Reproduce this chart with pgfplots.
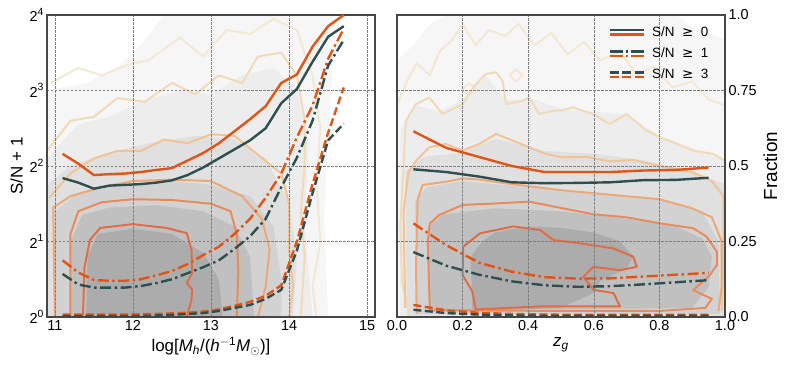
\documentclass[border=0pt]{standalone}
\usepackage{fontspec}
\setmainfont{Liberation Sans}
\newfontfamily\dejavu{DejaVu Sans}
\usepackage{pgfplots}
\pgfplotsset{compat=1.18}

\definecolor{snorange}{RGB}{226,84,22}
\definecolor{snteal}{RGB}{47,79,79}
% contour line colours, inner to outer
\definecolor{c1}{RGB}{222,110,72}
\definecolor{c2}{RGB}{231,140,95}
\definecolor{c3}{RGB}{236,168,120}
\definecolor{c4}{RGB}{240,196,150}
\definecolor{c5}{RGB}{241,218,185}
\definecolor{c6}{RGB}{243,232,212}
% filled contour greys, inner to outer
\definecolor{g1}{RGB}{172,172,172}
\definecolor{g2}{RGB}{192,192,192}
\definecolor{g3}{RGB}{210,210,210}
\definecolor{g4}{RGB}{224,224,224}
\definecolor{g5}{RGB}{237,237,237}
\definecolor{g6}{RGB}{246,246,246}

\newcommand\pw[1]{2\raisebox{0.45em}{\fontsize{10.5}{10.5}\selectfont #1}}

\pgfplotsset{
  panel/.style={
    scale only axis, width=328bp, height=302bp,
    axis on top,
    axis line style={draw=black!72, line width=1.2bp},
    grid=major,
    grid style={black!50, line width=0.6bp, dash pattern=on 2.5bp off 1.5bp},
    major tick length=0pt,
    tick label style={font=\fontsize{14.5}{14.5}\selectfont},
    xlabel style={font=\fontsize{17}{17}\selectfont},
    ylabel style={font=\fontsize{17}{17}\selectfont},
  },
  overlay/.style={scale only axis, width=328bp, height=302bp, hide axis, ymin=0, ymax=1},
  gfill/.style={draw=none, fill=#1, forget plot},
  cline/.style={draw=#1, line width=2bp, line join=round, mark=none, forget plot},
  curve/.style={draw=#1, line width=2.4bp, mark=none, forget plot},
  dd/.style={dash pattern=on 11bp off 3.5bp on 2.5bp off 3.5bp},
  ds/.style={dash pattern=on 8bp off 3.5bp},
}

\begin{document}
\begin{tikzpicture}
\path[use as bounding box] (-47bp,-53bp) rectangle (742bp,317bp);

% ---------------- left panel: contours in log2(S/N+1) ----------------
\begin{axis}[panel,
  xmin=10.9, xmax=15.1, ymin=0, ymax=4,
  xtick={11,12,13,14,15}, xticklabels={11,12,13,14,15},
  ytick={0,1,2,3,4},
  yticklabels={\pw{0},\pw{1},\pw{2},\pw{3},\pw{4}},
  xlabel={log[\textit{M}\textsubscript{\textit{h}}/(\textit{h}\textsuperscript{$-$1}\textit{M}\textsubscript{$\odot$})]},
  ylabel={S/N + 1},
]
\addplot[gfill=g6] coordinates {(10.9,0) (10.9,3.0) (11.4,3.1) (11.8,3.3) (12.1,3.6) (12.4,4.0) (14.6,4.0) (14.55,3.3) (14.5,2.4) (14.45,1.3) (14.5,0)};
\addplot[gfill=g5] coordinates {(10.9,0) (10.9,2.1) (11.3,2.55) (11.7,2.65) (12.1,2.85) (12.6,3.0) (13.0,2.95) (13.4,3.2) (13.8,3.3) (14.1,3.0) (14.25,2.3) (14.2,1.2) (14.3,0)};
\addplot[gfill=g4] coordinates {(10.9,0) (10.9,1.75) (11.2,2.0) (11.6,2.15) (12.2,2.3) (12.8,2.4) (13.3,2.35) (13.7,2.1) (14.0,1.5) (14.1,0.8) (14.05,0)};
\addplot[gfill=g3] coordinates {(11.0,0) (11.0,1.4) (11.3,1.65) (11.8,1.75) (12.5,1.8) (13.0,1.75) (13.5,1.6) (13.8,1.2) (13.9,0.5) (13.9,0)};
\addplot[gfill=g2] coordinates {(11.2,0) (11.2,1.0) (11.35,1.35) (11.7,1.45) (12.3,1.48) (12.9,1.4) (13.3,1.2) (13.5,0.8) (13.55,0)};
\addplot[gfill=g1] coordinates {(11.4,0) (11.42,0.8) (11.55,1.1) (12.0,1.17) (12.5,1.1) (12.9,0.85) (13.1,0.5) (13.15,0)};

\addplot[cline=c6] coordinates {(10.95,3.1) (11.3,3.3) (11.6,3.2) (11.95,3.35) (12.2,3.4) (12.4,3.55) (12.6,3.7) (12.9,3.45) (13.2,3.8) (13.5,3.75) (13.8,3.95) (14.1,3.8) (14.3,3.2) (14.4,2.5) (14.35,1.8) (14.4,1.0) (14.3,0.4) (14.35,0)};
\addplot[cline=c5] coordinates {(10.9,2.2) (11.2,2.6) (11.5,2.65) (11.8,2.9) (12.15,2.85) (12.5,3.1) (12.8,2.95) (13.1,3.2) (13.4,3.1) (13.6,3.45) (13.9,3.5) (14.1,3.2) (14.2,2.6) (14.2,2.0) (14.15,1.4) (14.2,0.8) (14.15,0)};
\addplot[cline=c4] coordinates {(10.93,1.58) (11.2,1.9) (11.5,2.1) (11.8,2.2) (12.1,2.2) (12.4,2.35) (12.7,2.3) (13.0,2.42) (13.3,2.4) (13.6,2.15) (13.9,1.9) (14.0,1.5) (14.0,0.9) (14.05,0.4) (14.0,0)};
\addplot[cline=c3] coordinates {(11.0,0) (10.98,1.45) (11.2,1.6) (11.6,1.72) (12.0,1.8) (12.5,1.82) (13.0,1.8) (13.4,1.6) (13.65,1.3) (13.75,0.9) (13.7,0.4) (13.6,0)};
\addplot[cline=c2] coordinates {(11.2,0) (11.2,1.1) (11.3,1.4) (11.6,1.52) (12.0,1.56) (12.5,1.55) (13.0,1.5) (13.25,1.4) (13.33,1.1) (13.35,0.6) (13.33,0)};
\addplot[cline=c1] coordinates {(11.36,0) (11.38,0.66) (11.45,1.02) (11.58,1.18) (12.0,1.23) (12.43,1.18) (12.69,1.11) (12.75,0.89) (12.76,0.58) (12.69,0.45) (12.76,0.36) (12.75,0.23) (12.69,0)};
\end{axis}

% ---------------- left panel: fractions ----------------
\begin{axis}[overlay, xmin=10.9, xmax=15.1]
\addplot[curve=snorange] coordinates {(11.1,0.540) (11.3,0.508) (11.5,0.470) (11.7,0.473) (11.9,0.475) (12.1,0.480) (12.3,0.487) (12.5,0.493) (12.7,0.518) (12.9,0.543) (13.1,0.575) (13.3,0.615) (13.5,0.655) (13.7,0.698) (13.9,0.775) (14.1,0.803) (14.3,0.895) (14.5,0.963) (14.7,1.0)};
\addplot[curve=snteal] coordinates {(11.1,0.460) (11.3,0.445) (11.5,0.425) (11.7,0.435) (11.9,0.4375) (12.1,0.440) (12.3,0.445) (12.5,0.4525) (12.7,0.470) (12.9,0.495) (13.1,0.525) (13.3,0.555) (13.5,0.585) (13.7,0.625) (13.9,0.708) (14.1,0.755) (14.3,0.845) (14.5,0.928) (14.7,0.963)};
\addplot[curve=snorange, dd] coordinates {(11.1,0.1875) (11.3,0.1475) (11.5,0.1225) (11.7,0.120) (11.9,0.120) (12.1,0.125) (12.3,0.1375) (12.5,0.1525) (12.7,0.175) (12.9,0.205) (13.1,0.2325) (13.3,0.275) (13.5,0.325) (13.7,0.395) (13.9,0.475) (14.1,0.595) (14.3,0.700) (14.5,0.855) (14.7,0.955)};
\addplot[curve=snteal, dd] coordinates {(11.1,0.1425) (11.3,0.1075) (11.5,0.0975) (11.7,0.0975) (11.9,0.0975) (12.1,0.1025) (12.3,0.1125) (12.5,0.125) (12.7,0.145) (12.9,0.165) (13.1,0.1875) (13.3,0.225) (13.5,0.2675) (13.7,0.325) (13.9,0.430) (14.1,0.5275) (14.3,0.650) (14.5,0.8325) (14.7,0.9175)};
\addplot[curve=snorange, ds] coordinates {(11.1,0.008) (11.3,0.008) (11.5,0.008) (11.7,0.008) (11.9,0.008) (12.1,0.009) (12.3,0.010) (12.5,0.012) (12.7,0.014) (12.9,0.018) (13.1,0.025) (13.3,0.037) (13.5,0.050) (13.7,0.070) (13.9,0.105) (14.1,0.250) (14.3,0.440) (14.5,0.610) (14.7,0.760)};
\addplot[curve=snteal, ds] coordinates {(11.1,0.003) (11.3,0.003) (11.5,0.003) (11.7,0.003) (11.9,0.003) (12.1,0.003) (12.3,0.005) (12.5,0.007) (12.7,0.010) (12.9,0.013) (13.1,0.020) (13.3,0.030) (13.5,0.040) (13.7,0.060) (13.9,0.090) (14.1,0.220) (14.3,0.410) (14.5,0.585) (14.7,0.640)};
\end{axis}

% ---------------- right panel: contours ----------------
\begin{axis}[panel, at={(350bp,0bp)},
  xmin=0, xmax=1, ymin=0, ymax=1,
  xtick={0,0.2,0.4,0.6,0.8,1}, xticklabels={0.0,0.2,0.4,0.6,0.8,1.0},
  ytick={0,0.25,0.5,0.75,1}, yticklabels={0.0,0.25,0.5,0.75,1.0},
  yticklabel pos=right, ylabel near ticks,
  xlabel={\textit{z}\textsubscript{\textit{g}}},
  ylabel={Fraction},
  ylabel style={font=\fontsize{19}{19}\selectfont},
]
\addplot[gfill=g6] coordinates {(0,0) (0,0.85) (0.05,0.9) (0.1,0.97) (0.15,1) (0.85,1) (0.9,0.96) (1,0.92) (1,0)};
\addplot[gfill=g5] coordinates {(0.01,0) (0.01,0.62) (0.06,0.7) (0.13,0.68) (0.2,0.72) (0.27,0.8) (0.33,0.72) (0.42,0.72) (0.5,0.69) (0.6,0.68) (0.7,0.67) (0.8,0.6) (0.9,0.56) (1,0.52) (1,0)};
\addplot[gfill=g4] coordinates {(0.03,0) (0.025,0.48) (0.08,0.53) (0.2,0.545) (0.3,0.59) (0.45,0.55) (0.6,0.54) (0.75,0.52) (0.9,0.48) (1,0.44) (1,0)};
\addplot[gfill=g3] coordinates {(0.06,0.01) (0.055,0.38) (0.09,0.43) (0.2,0.45) (0.4,0.43) (0.6,0.41) (0.8,0.39) (0.93,0.35) (0.98,0.25) (0.985,0.01)};
\addplot[gfill=g2] coordinates {(0.1,0.02) (0.095,0.3) (0.14,0.34) (0.3,0.36) (0.5,0.35) (0.7,0.325) (0.85,0.3) (0.93,0.26) (0.96,0.2) (0.95,0.1) (0.9,0.03)};
\addplot[gfill=g1] coordinates {(0.23,0.02) (0.225,0.2) (0.26,0.25) (0.3,0.28) (0.4,0.30) (0.5,0.295) (0.6,0.28) (0.68,0.25) (0.72,0.2) (0.7,0.16) (0.62,0.12) (0.6,0.08) (0.5,0.03)};

\addplot[cline=c6] coordinates {(0.0,0.7) (0.03,0.78) (0.06,0.84) (0.1,0.8) (0.13,0.88) (0.17,0.92) (0.2,0.97) (0.24,0.9) (0.28,0.95) (0.33,0.93) (0.37,0.97) (0.42,0.9) (0.47,0.94) (0.52,0.87) (0.57,0.91) (0.62,0.85) (0.68,0.88) (0.73,0.8) (0.78,0.83) (0.84,0.76) (0.9,0.78) (0.95,0.72) (1.0,0.7)};
\addplot[cline=c6] coordinates {(0.2,0.755) (0.22,0.775) (0.24,0.755) (0.22,0.735) (0.2,0.755)};
\addplot[cline=c6] coordinates {(0.343,0.8) (0.363,0.82) (0.383,0.8) (0.363,0.78) (0.343,0.8)};
\addplot[cline=c5] coordinates {(0.04,0.0) (0.015,0.12) (0.01,0.3) (0.02,0.5) (0.027,0.65) (0.058,0.705) (0.098,0.727) (0.139,0.672) (0.2,0.705) (0.24,0.77) (0.271,0.805) (0.302,0.81) (0.322,0.782) (0.332,0.705) (0.383,0.716) (0.403,0.727) (0.434,0.672) (0.475,0.683) (0.497,0.683) (0.537,0.694) (0.598,0.672) (0.649,0.639) (0.7,0.672) (0.761,0.617) (0.802,0.595) (0.853,0.573) (0.903,0.551) (0.964,0.54) (1.0,0.517)};
\addplot[cline=c4] coordinates {(0.025,0.03) (0.02,0.35) (0.035,0.48) (0.058,0.517) (0.098,0.562) (0.149,0.573) (0.2,0.551) (0.251,0.573) (0.302,0.606) (0.353,0.584) (0.403,0.562) (0.454,0.54) (0.5,0.529) (0.58,0.53) (0.65,0.515) (0.72,0.52) (0.8,0.5) (0.9,0.48) (0.96,0.45) (0.995,0.4) (0.995,0.2) (0.99,0.02)};
\addplot[cline=c3] coordinates {(0.06,0.01) (0.058,0.17) (0.063,0.39) (0.078,0.437) (0.149,0.448) (0.2,0.459) (0.25,0.455) (0.35,0.44) (0.5,0.42) (0.6,0.41) (0.7,0.40) (0.8,0.39) (0.9,0.36) (0.96,0.33) (0.99,0.25) (0.99,0.1) (0.98,0.02)};
\addplot[cline=c2] coordinates {(0.2,0.022) (0.1,0.022) (0.094,0.25) (0.1,0.31) (0.129,0.338) (0.2,0.371) (0.302,0.376) (0.403,0.382) (0.5,0.361) (0.6,0.34) (0.7,0.33) (0.802,0.31) (0.903,0.294) (0.944,0.266) (0.975,0.216) (0.975,0.172) (0.954,0.139) (0.903,0.089) (0.96,0.06) (0.94,0.03) (0.8,0.02) (0.5,0.02) (0.2,0.022)};
\addplot[cline=c1] coordinates {(0.202,0.233) (0.253,0.277) (0.355,0.300) (0.436,0.288) (0.477,0.255) (0.558,0.244) (0.660,0.227) (0.720,0.200) (0.731,0.166) (0.680,0.155) (0.599,0.166) (0.568,0.133) (0.599,0.090) (0.660,0.079) (0.680,0.035) (0.578,0.035) (0.436,0.035) (0.240,0.025) (0.230,0.084) (0.200,0.139) (0.202,0.233)};
\end{axis}

% ---------------- right panel: fractions + legend ----------------
\begin{axis}[overlay, at={(350bp,0bp)}, xmin=0, xmax=1,
  legend style={at={(rel axis cs:0.965,0.975)}, anchor=north east,
    draw=none, fill=none, font=\fontsize{13.5}{13.5}\selectfont,
    row sep=6bp, cells={anchor=west},
    /tikz/every odd column/.append style={column sep=5bp}},
]
\addplot[curve=snorange] coordinates {(0.05,0.615) (0.15,0.560) (0.25,0.530) (0.35,0.500) (0.45,0.480) (0.55,0.480) (0.65,0.480) (0.75,0.485) (0.85,0.487) (0.95,0.495)};
\addplot[curve=snteal] coordinates {(0.05,0.489) (0.15,0.480) (0.25,0.465) (0.35,0.446) (0.45,0.443) (0.55,0.444) (0.65,0.446) (0.75,0.453) (0.85,0.454) (0.95,0.461)};
\addplot[curve=snorange, dd] coordinates {(0.05,0.310) (0.15,0.238) (0.25,0.180) (0.35,0.150) (0.45,0.132) (0.55,0.127) (0.65,0.128) (0.75,0.134) (0.85,0.140) (0.95,0.146)};
\addplot[curve=snteal, dd] coordinates {(0.05,0.215) (0.15,0.170) (0.25,0.140) (0.35,0.118) (0.45,0.105) (0.55,0.100) (0.65,0.102) (0.75,0.108) (0.85,0.115) (0.95,0.122)};
\addplot[curve=snorange, ds] coordinates {(0.05,0.040) (0.15,0.022) (0.25,0.014) (0.35,0.010) (0.45,0.008) (0.55,0.007) (0.65,0.007) (0.75,0.007) (0.85,0.007) (0.95,0.007)};
\addplot[curve=snteal, ds] coordinates {(0.05,0.024) (0.15,0.013) (0.25,0.008) (0.35,0.005) (0.45,0.004) (0.55,0.004) (0.65,0.004) (0.75,0.004) (0.85,0.004) (0.95,0.004)};

\addlegendimage{legend image code/.code={
  \draw[snteal, line width=2.6bp] (0bp,2.3bp) -- (34bp,2.3bp);
  \draw[snorange, line width=2.6bp] (0bp,-2.3bp) -- (34bp,-2.3bp);}}
\addlegendentry{S/N\ \ {\dejavu ≥}\ \ 0}
\addlegendimage{legend image code/.code={
  \draw[snteal, line width=2.6bp, dash pattern=on 13bp off 3bp on 2.5bp off 3bp] (0bp,2.3bp) -- (34bp,2.3bp);
  \draw[snorange, line width=2.6bp, dash pattern=on 13bp off 3bp on 2.5bp off 3bp] (0bp,-2.3bp) -- (34bp,-2.3bp);}}
\addlegendentry{S/N\ \ {\dejavu ≥}\ \ 1}
\addlegendimage{legend image code/.code={
  \draw[snteal, line width=2.6bp, dash pattern=on 9bp off 3.5bp] (0bp,2.3bp) -- (34bp,2.3bp);
  \draw[snorange, line width=2.6bp, dash pattern=on 9bp off 3.5bp] (0bp,-2.3bp) -- (34bp,-2.3bp);}}
\addlegendentry{S/N\ \ {\dejavu ≥}\ \ 3}
\end{axis}
\end{tikzpicture}
\end{document}
